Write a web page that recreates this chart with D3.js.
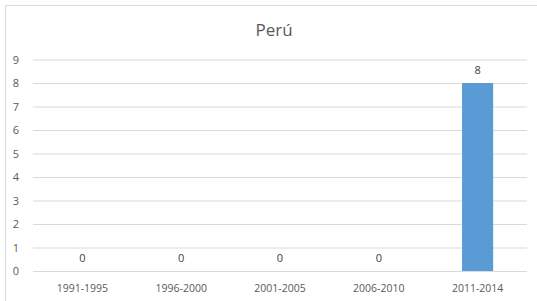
<!DOCTYPE html>
<html><head><meta charset="utf-8">
<script src="https://cdn.jsdelivr.net/npm/d3@7"></script>
<style>body{margin:0;background:#fff}svg{display:block}</style>
</head><body><svg id="c" width="537" height="301"></svg>
<script>
const title = "Perú";
const categories = ["1991-1995","1996-2000","2001-2005","2006-2010","2011-2014"];
const values = [0,0,0,0,8];
const yTicks = [0,1,2,3,4,5,6,7,8,9];

(function(){
const svg = d3.select("#c");
const font = "'Open Sans', 'Liberation Sans', sans-serif";
svg.append("rect").attr("x",5.5).attr("y",5.5).attr("width",600).attr("height",400)
  .attr("fill","#fff").attr("stroke","#d9d9d9");

const mLeft = 33, mRight = 527, mTop = 59.5, mBottom = 271;
const x = d3.scaleBand().domain(categories).range([mLeft,mRight]).paddingInner(0.685).paddingOuter(0.3425);
const y = d3.scaleLinear().domain([0,9]).range([mBottom,mTop]);

svg.append("text").attr("x",274).attr("y",36).attr("text-anchor","middle")
  .attr("font-family",font).attr("font-size",17).attr("fill","#595959").text(title);

const yAxis = d3.axisLeft(y).tickValues(yTicks).tickSize(-(mRight-mLeft)).tickPadding(14);
const gy = svg.append("g").attr("transform",`translate(${mLeft},0)`).call(yAxis);
gy.select(".domain").remove();
gy.selectAll(".tick line").attr("stroke","#d9d9d9");
gy.selectAll(".tick text").attr("font-family",font).attr("font-size",11).attr("fill","#595959");

const xAxis = d3.axisBottom(x).tickSize(0).tickPadding(14);
const gx = svg.append("g").attr("transform",`translate(0,${mBottom})`).call(xAxis);
gx.select(".domain").remove();
gx.selectAll(".tick text").attr("font-family",font).attr("font-size",10.5).attr("fill","#595959");

svg.selectAll("rect.bar").data(values).join("rect").attr("class","bar")
  .attr("x",(d,i)=>x(categories[i])).attr("width",x.bandwidth())
  .attr("y",d=>y(d)).attr("height",d=>y(0)-y(d)).attr("fill","#5b9bd5");

svg.selectAll("text.lbl").data(values).join("text").attr("class","lbl")
  .attr("x",(d,i)=>x(categories[i])+x.bandwidth()/2).attr("y",d=>y(d)-9)
  .attr("text-anchor","middle").attr("font-family",font).attr("font-size",11)
  .attr("fill","#404040").text(d=>d);
})();
</script></body></html>
